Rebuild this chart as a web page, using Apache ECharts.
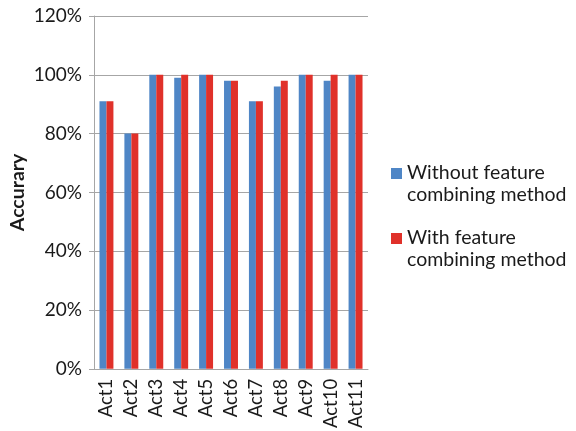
<!DOCTYPE html>
<html>
<head>
<meta charset="utf-8">
<script src="https://cdn.jsdelivr.net/npm/echarts@6/dist/echarts.min.js"></script>
<style>
  html, body { margin: 0; padding: 0; background: #fff; }
  #chart { width: 576px; height: 431px; }
</style>
</head>
<body>
<div id="chart"></div>
<script>
// Activity labels along the x axis
const categories = ['Act1', 'Act2', 'Act3', 'Act4', 'Act5', 'Act6', 'Act7', 'Act8', 'Act9', 'Act10', 'Act11'];
// Recognition accuracy per activity, in percent
const withoutCombining = [91, 80, 100, 99, 100, 98, 91, 96, 100, 98, 100];
const withCombining = [91, 80, 100, 100, 100, 98, 91, 98, 100, 100, 100];
const seriesNames = ['Without feature\ncombining method', 'With feature\ncombining method'];
const yTicks = { min: 0, max: 120, interval: 20 };

const font = 'Lato, "Open Sans", sans-serif';
// Square marker sitting beside the first line of a two-line legend entry
const legendIcon = 'path://M0,6H11V17H0Z M0,0H0.01V0.01H0Z M0,44H0.01V44.01H0Z';

const chart = echarts.init(document.getElementById('chart'), null, { renderer: 'canvas' });
chart.setOption({
  animation: false,
  backgroundColor: '#ffffff',
  textStyle: { fontFamily: font },
  grid: { left: 94, right: 208, top: 16, bottom: 60, containLabel: false },
  legend: {
    orient: 'vertical',
    left: 386,
    top: 157,
    icon: legendIcon,
    itemWidth: 11,
    itemHeight: 44,
    itemGap: 21,
    textStyle: { fontFamily: font, fontSize: 19.5, color: '#1a1a1a', lineHeight: 22 },
    data: seriesNames
  },
  xAxis: {
    type: 'category',
    data: categories,
    axisLine: { lineStyle: { color: '#a6a6a6', width: 1 } },
    axisTick: { show: false },
    axisLabel: { rotate: 90, fontSize: 18.5, color: '#1a1a1a', margin: 10, fontFamily: font }
  },
  yAxis: {
    type: 'value',
    min: yTicks.min,
    max: yTicks.max,
    interval: yTicks.interval,
    name: 'Accurary',
    nameLocation: 'middle',
    nameRotate: 90,
    nameGap: 66,
    nameTextStyle: { fontSize: 19.5, fontWeight: 'bold', color: '#1a1a1a', fontFamily: font },
    axisLine: { show: true, lineStyle: { color: '#a6a6a6', width: 1 } },
    axisTick: { show: true, length: 5, lineStyle: { color: '#a6a6a6' } },
    splitLine: { lineStyle: { color: '#a6a6a6', width: 1 } },
    axisLabel: { formatter: '{value}%', fontSize: 19, color: '#1a1a1a', margin: 12, fontFamily: font }
  },
  series: [
    {
      name: seriesNames[0],
      type: 'bar',
      data: withoutCombining,
      itemStyle: { color: '#4f86c6' },
      barGap: '0%',
      barCategoryGap: '44%'
    },
    {
      name: seriesNames[1],
      type: 'bar',
      data: withCombining,
      itemStyle: { color: '#e0312a' },
      barGap: '0%',
      barCategoryGap: '44%'
    }
  ]
});
</script>
</body>
</html>
